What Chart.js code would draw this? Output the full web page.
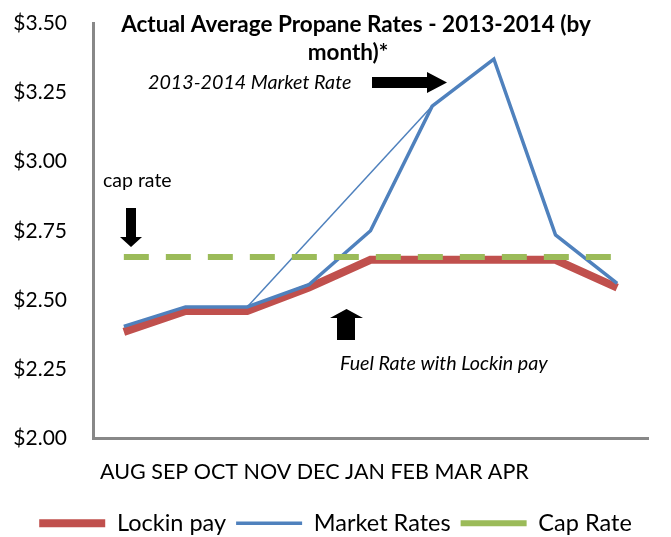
<!DOCTYPE html>
<html>
<head>
<meta charset="utf-8">
<script src="https://cdn.jsdelivr.net/npm/chart.js@4.4.0/dist/chart.umd.min.js"></script>
<style>
  html, body { margin: 0; padding: 0; background: #fff; }
  #wrap { width: 671px; height: 537px; }
</style>
</head>
<body>
<div id="wrap"><canvas id="propaneChart"></canvas></div>
<script>
const months = ['AUG', 'SEP', 'OCT', 'NOV', 'DEC', 'JAN', 'FEB', 'MAR', 'APR'];
const lockinPay = [2.385, 2.46, 2.46, 2.545, 2.645, 2.645, 2.645, 2.645, 2.545];
const marketRates = [2.405, 2.475, 2.475, 2.555, 2.75, 3.20, 3.37, 2.735, 2.56];
const marketTrend = [null, null, 2.475, null, null, 3.20, null, null, null];
const capRate = [2.655, 2.655, 2.655, 2.655, 2.655, 2.655, 2.655, 2.655, 2.655];
const yTicks = [2.00, 2.25, 2.50, 2.75, 3.00, 3.25, 3.50];

Chart.defaults.font.family = 'Lato, "Open Sans", sans-serif';
Chart.defaults.color = '#000';

// arrows + free text from the original sheet
const drawArrow = (ctx, pts) => {
    ctx.beginPath();
    ctx.moveTo(pts[0][0], pts[0][1]);
    pts.slice(1).forEach(p => ctx.lineTo(p[0], p[1]));
    ctx.closePath();
    ctx.fill();
};

const notesPlugin = {
    id: 'notes',
    afterDraw(chart) {
        const ctx = chart.ctx;
        ctx.save();
        ctx.fillStyle = '#000';
        ctx.textBaseline = 'middle';

        ctx.textAlign = 'center';
        ctx.font = 'bold 22.5px Lato';
        ctx.fillText('Actual Average Propane Rates - 2013-2014 (by', 356, 25);
        ctx.fillText('month)*', 348, 53);

        ctx.textAlign = 'left';
        ctx.font = 'italic 19.7px Lato';
        ctx.fillText('2013-2014 Market Rate', 148, 83);
        ctx.fillText('Fuel Rate with Lockin pay', 340, 364);
        ctx.font = '19.5px Lato';
        ctx.fillText('cap rate', 103, 181);
        ctx.font = '21.5px Lato';
        ctx.fillText(months.join(' '), 100, 472);

        drawArrow(ctx, [[372, 77], [427, 77], [427, 72], [447, 82.5], [427, 93], [427, 88], [372, 88]]);
        drawArrow(ctx, [[126, 208], [136, 208], [136, 237], [142, 237], [131, 247], [120, 237], [126, 237]]);
        drawArrow(ctx, [[346.5, 309], [363, 318], [355, 318], [355, 340], [337, 340], [337, 318], [330, 318]]);
        ctx.restore();
    }
};

const ctx = document.getElementById('propaneChart').getContext('2d');

window.propaneChart = new Chart(ctx, {
    type: 'line',
    data: {
        labels: months,
        datasets: [{
            label: 'Lockin pay',
            data: lockinPay,
            borderColor: '#C0504D',
            backgroundColor: '#C0504D',
            borderWidth: 8,
            pointRadius: 0,
            order: 3
        }, {
            label: 'Market Rates',
            data: marketRates,
            borderColor: '#4F81BD',
            backgroundColor: '#4F81BD',
            borderWidth: 3.5,
            pointRadius: 0,
            order: 2
        }, {
            label: '',
            data: marketTrend,
            borderColor: '#4F81BD',
            borderWidth: 1.5,
            pointRadius: 0,
            spanGaps: true,
            order: 2
        }, {
            label: 'Cap Rate',
            data: capRate,
            borderColor: '#9BBB59',
            backgroundColor: '#9BBB59',
            borderWidth: 6,
            borderDash: [25, 17],
            pointRadius: 0,
            order: 1
        }]
    },
    options: {
        responsive: true,
        maintainAspectRatio: false,
        animation: false,
        layout: {
            padding: { top: 23, right: 0, left: 0, bottom: -8 }
        },
        plugins: {
            legend: {
                display: true,
                position: 'bottom',
                labels: {
                    usePointStyle: true,
                    pointStyle: 'line',
                    pointStyleWidth: 66,
                    padding: 10,
                    font: { size: 23.5 },
                    filter: item => item.text !== '',
                    sort: (a, b) => a.datasetIndex - b.datasetIndex
                }
            },
            tooltip: { enabled: false }
        },
        scales: {
            x: {
                offset: true,
                grid: { display: false },
                border: { color: '#888', width: 3 },
                ticks: { display: false },
                afterFit: scale => { scale.height = 63; }
            },
            y: {
                min: 2,
                max: 3.5,
                grid: { display: false, drawTicks: false },
                border: { color: '#888', width: 3 },
                ticks: {
                    padding: 26,
                    font: { size: 21 },
                    callback: v => '$' + Number(v).toFixed(2)
                },
                afterBuildTicks: scale => { scale.ticks = yTicks.map(v => ({ value: v })); },
                afterFit: scale => {
                    scale.width = 93;
                    scale.paddingTop = 0;
                    scale.paddingBottom = 0;
                }
            },
            // empty right gutter so the plot stops short of the edge
            yRight: {
                position: 'right',
                grid: { display: false },
                border: { display: false },
                ticks: { display: false },
                afterFit: scale => {
                    scale.width = 23;
                    scale.paddingTop = 0;
                    scale.paddingBottom = 0;
                }
            }
        }
    },
    plugins: [notesPlugin]
});
</script>
</body>
</html>
